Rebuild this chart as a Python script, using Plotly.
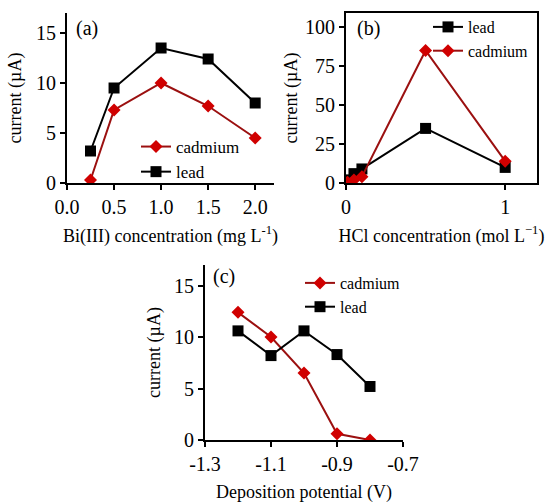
import plotly.graph_objects as go

# Panel (a)
bi_conc = [0.25, 0.5, 1.0, 1.5, 2.0]
a_lead = [3.2, 9.5, 13.5, 12.4, 8.0]
a_cadmium = [0.3, 7.3, 10.0, 7.7, 4.5]

# Panel (b)
hcl_conc = [0.0, 0.01, 0.05, 0.1, 0.5, 1.0]
b_lead = [0.5, 2.0, 6.0, 9.0, 35.0, 10.0]
b_cadmium = [0.0, 0.5, 2.0, 4.0, 85.0, 14.0]

# Panel (c)
dep_pot = [-1.2, -1.1, -1.0, -0.9, -0.8]
c_lead = [10.6, 8.2, 10.6, 8.3, 5.2]
c_cadmium = [12.4, 10.0, 6.5, 0.6, 0.0]

a_xticks = [0.0, 0.5, 1.0, 1.5, 2.0]
a_xticktext = ["0.0", "0.5", "1.0", "1.5", "2.0"]
b_xticks = [0, 1]
b_xticktext = ["0", "1"]
c_xticks = [-1.3, -1.1, -0.9, -0.7]
c_xticktext = ["-1.3", "-1.1", "-0.9", "-0.7"]
ac_yticks = [0, 5, 10, 15]
b_yticks = [0, 25, 50, 75, 100]

W, H = 552, 503
FONT = "Liberation Serif"
RED_LINE = "#9b1010"
RED_MK = "#d00000"

def px_x(a, b):
    return [a / W, b / W]

def px_y(top, bottom):
    return [1 - bottom / H, 1 - top / H]

fig = go.Figure()

def lead_trace(x, y, xa, ya, leg):
    return go.Scatter(x=x, y=y, name="lead", mode="lines+markers", xaxis=xa, yaxis=ya,
                      legend=leg, line=dict(color="black", width=2),
                      marker=dict(symbol="square", size=11, color="black"))

def cad_trace(x, y, xa, ya, leg):
    return go.Scatter(x=x, y=y, name="cadmium", mode="lines+markers", xaxis=xa, yaxis=ya,
                      legend=leg, line=dict(color=RED_LINE, width=2),
                      marker=dict(symbol="diamond", size=10, color=RED_MK))

fig.add_trace(cad_trace(bi_conc, a_cadmium, "x", "y", "legend"))
fig.add_trace(lead_trace(bi_conc, a_lead, "x", "y", "legend"))
fig.add_trace(lead_trace(hcl_conc, b_lead, "x2", "y2", "legend2"))
fig.add_trace(cad_trace(hcl_conc, b_cadmium, "x2", "y2", "legend2"))
fig.add_trace(cad_trace(dep_pot, c_cadmium, "x3", "y3", "legend3"))
fig.add_trace(lead_trace(dep_pot, c_lead, "x3", "y3", "legend3"))

axis_common = dict(showline=True, linecolor="black", linewidth=2, ticks="outside",
                   ticklen=5, tickwidth=2, tickcolor="black", showgrid=False,
                   zeroline=False, automargin=False,
                   tickfont=dict(size=20, color="black", family=FONT),
                   title_font=dict(size=18, color="black", family=FONT))

fig.update_layout(
    width=W, height=H, margin=dict(l=0, r=0, t=0, b=0, autoexpand=False),
    paper_bgcolor="white", plot_bgcolor="white",
    font=dict(family=FONT, size=18, color="black"),
    xaxis=dict(domain=px_x(67, 274), range=[0, 2.2], tickvals=a_xticks, ticktext=a_xticktext,
               anchor="y", title=dict(text="Bi(III) concentration (mg L<sup>-1</sup>)", standoff=12),
               **axis_common),
    yaxis=dict(domain=px_y(13, 183), range=[0, 17], tickvals=ac_yticks, anchor="x",
               title=dict(text="current (µA)", standoff=10), **axis_common),
    xaxis2=dict(domain=px_x(346, 537), range=[0, 1.2], tickvals=b_xticks, ticktext=b_xticktext,
                anchor="y2", mirror=True,
                title=dict(text="HCl concentration (mol L<sup>−1</sup>)", standoff=12),
                **axis_common),
    yaxis2=dict(domain=px_y(13, 183), range=[0, 109], tickvals=b_yticks, anchor="x2", mirror=True,
                title=dict(text="current (µA)", standoff=3), **axis_common),
    xaxis3=dict(domain=px_x(205, 403), range=[-1.3, -0.7], tickvals=c_xticks, ticktext=c_xticktext,
                anchor="y3", title=dict(text="Deposition potential (V)", standoff=12),
                **axis_common),
    yaxis3=dict(domain=px_y(265, 440), range=[0, 17], tickvals=ac_yticks, anchor="x3",
                title=dict(text="current (µA)", standoff=9), **axis_common),
    legend=dict(x=245 / W, y=1 - 129 / H, xanchor="right", yanchor="top",
                bgcolor="rgba(0,0,0,0)", font=dict(size=17, family=FONT), itemwidth=30),
    legend2=dict(x=534 / W, y=1 - 10 / H, xanchor="right", yanchor="top",
                 bgcolor="rgba(0,0,0,0)", font=dict(size=16, family=FONT), itemwidth=30),
    legend3=dict(x=406 / W, y=1 - 266 / H, xanchor="right", yanchor="top",
                 bgcolor="rgba(0,0,0,0)", font=dict(size=16, family=FONT), itemwidth=30),
    showlegend=True,
)

for txt, xx, yy in [("(a)", 74, 29), ("(b)", 355, 29), ("(c)", 211, 276)]:
    fig.add_annotation(text=txt, x=xx / W, y=1 - yy / H, xref="paper", yref="paper",
                       xanchor="left", yanchor="middle", showarrow=False,
                       font=dict(size=20, family=FONT, color="black"))

fig.write_html("out.html", config={"displayModeBar": False},
               post_script="document.body.style.margin='0px';")
